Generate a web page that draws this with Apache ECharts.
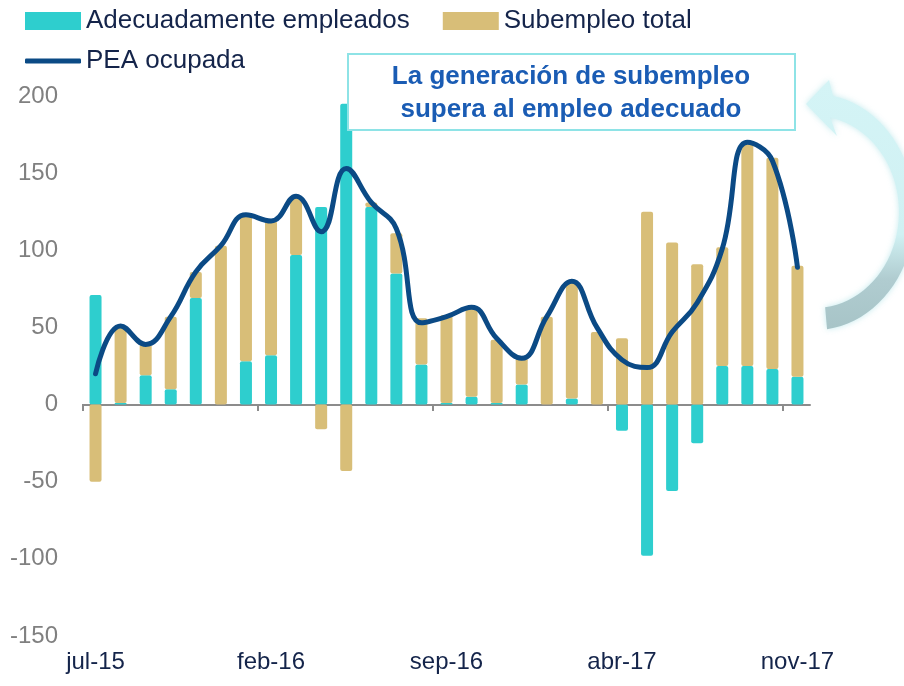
<!DOCTYPE html>
<html lang="es">
<head>
    <meta charset="UTF-8">
    <script src="https://cdn.jsdelivr.net/npm/echarts@6/dist/echarts.min.js"></script>
    <title>PEA ocupada</title>
    <style>
        html, body { margin: 0; padding: 0; background: #fff; }
    </style>
</head>
<body>
    <div id="main" style="width:904px;height:686px"></div>
    <script>
        // meses jul-15 .. nov-17
        var months = ['jul-15','ago-15','sep-15','oct-15','nov-15','dic-15',
            'ene-16','feb-16','mar-16','abr-16','may-16','jun-16','jul-16','ago-16','sep-16','oct-16','nov-16','dic-16',
            'ene-17','feb-17','mar-17','abr-17','may-17','jun-17','jul-17','ago-17','sep-17','oct-17','nov-17'];
        var adecuado = [71, 1, 19, 10, 69, 0, 28, 32, 97, 128, 195, 128, 85, 26, 1, 5, 1, 13, 0, 4, 0, -17, -98, -56, -25, 25, 25, 23, 18];
        var subempleo = [-50, 50, 20, 47, 17, 103, 95, 87, 37, -16, -43, 3, 26, 30, 57, 58, 41, 17, 57, 76, 47, 43, 125, 105, 91, 77, 144, 137, 72];
        var pea = [20, 51, 39, 57, 86, 103, 123, 119, 135, 112, 153, 131, 114, 53, 57, 63, 43, 30, 57, 80, 50, 29, 24, 47, 66, 101, 170, 158, 89];
        var yMin = -150, yMax = 200, yStep = 50;
        var tickEvery = 7;   // una marca cada 7 meses

        var font = 'Liberation Sans, Arial, sans-serif';
        var navy = '#14244a';

        // flecha circular decorativa a la derecha
        function arrowPoints() {
            var cx = 815, cy = 212;
            var ro = [100, 118], ri = [84, 96];
            var t0 = -1.39, t1 = 1.45, n = 40;
            var pts = [];
            pts.push([cx + ri[0] * Math.cos(t0), cy + ri[1] * Math.sin(t0)]);
            pts.push([837, 136]);
            pts.push([806, 104]);
            pts.push([829, 80]);
            for (var i = 0; i <= n; i++) {
                var t = t0 + (t1 - t0) * i / n;
                pts.push([cx + ro[0] * Math.cos(t), cy + ro[1] * Math.sin(t)]);
            }
            for (var j = n; j >= 0; j--) {
                var s = t0 + (t1 - t0) * j / n;
                pts.push([cx + ri[0] * Math.cos(s), cy + ri[1] * Math.sin(s)]);
            }
            return pts;
        }

        var echart = echarts.init(document.getElementById('main'));
        var option = {
            animation: false,
            textStyle: { fontFamily: font },
            grid: [
                { left: 83, right: 94, top: 96, bottom: 50 },
                // solo para las marcas del eje x (sin marca al final)
                { left: 83, right: 121, top: 96, bottom: 282 }
            ],
            legend: [
                {
                    left: 20, top: 3,
                    itemWidth: 56, itemHeight: 18, itemGap: 33,
                    icon: 'rect',
                    textStyle: { fontSize: 26, color: navy, fontFamily: font },
                    data: ['Adecuadamente empleados', 'Subempleo total']
                },
                {
                    left: 20, top: 43,
                    itemWidth: 56, itemHeight: 5,
                    textStyle: { fontSize: 26, color: navy, fontFamily: font },
                    data: [{ name: 'PEA ocupada', icon: 'roundRect' }]
                }
            ],
            xAxis: [
                {
                    type: 'category',
                    data: months,
                    axisLine: { onZero: true, lineStyle: { color: '#8c8c8c', width: 2 } },
                    axisTick: { show: false },
                    axisLabel: { show: false },
                    splitLine: { show: false }
                },
                {
                    type: 'category',
                    data: months,
                    position: 'bottom',
                    axisLine: { show: false, onZero: false },
                    axisTick: { show: false },
                    axisLabel: { interval: tickEvery - 1, fontSize: 24, color: navy, margin: 14, fontFamily: font },
                    splitLine: { show: false }
                },
                {
                    type: 'value',
                    gridIndex: 1,
                    min: 0, max: months.length - 1, interval: tickEvery,
                    position: 'bottom',
                    axisLine: { show: false, onZero: false },
                    axisTick: { show: true, length: 7, lineStyle: { color: '#8c8c8c', width: 2 } },
                    axisLabel: { show: false },
                    splitLine: { show: false }
                }
            ],
            yAxis: [
                {
                    type: 'value',
                    min: yMin, max: yMax, interval: yStep,
                    axisLine: { show: false },
                    axisTick: { show: false },
                    splitLine: { show: false },
                    axisLabel: { fontSize: 24, color: '#808080', margin: 25, fontFamily: font }
                },
                { type: 'value', gridIndex: 1, show: false }
            ],
            series: [
                {
                    name: 'Adecuadamente empleados',
                    type: 'bar',
                    stack: 'total',
                    barWidth: 12,
                    data: adecuado,
                    itemStyle: { color: '#2ecece', borderRadius: 2 }
                },
                {
                    name: 'Subempleo total',
                    type: 'bar',
                    stack: 'total',
                    barWidth: 12,
                    data: subempleo,
                    itemStyle: { color: '#d8be78', borderRadius: 2 }
                },
                {
                    name: 'PEA ocupada',
                    type: 'line',
                    data: pea,
                    smooth: 0.45,
                    symbol: 'none',
                    z: 5,
                    lineStyle: { color: '#0b4a85', width: 5, cap: 'round' },
                    itemStyle: { color: '#0b4a85' }
                }
            ],
            graphic: [
                {
                    type: 'polygon',
                    z: 1,
                    shape: { points: arrowPoints() },
                    style: {
                        fill: new echarts.graphic.LinearGradient(0, 0, 0, 1, [
                            { offset: 0, color: '#d4f4f6' },
                            { offset: 0.62, color: '#d0f1f3' },
                            { offset: 0.8, color: '#b0ccd0' },
                            { offset: 1, color: '#a7c4c7' }
                        ]),
                        shadowBlur: 6,
                        shadowColor: 'rgba(170,225,230,0.7)'
                    }
                },
                {
                    type: 'rect',
                    z: 100,
                    shape: { x: 348, y: 54, width: 447, height: 76 },
                    style: { fill: '#ffffff', stroke: '#8ee3e6', lineWidth: 2 }
                },
                {
                    type: 'text',
                    z: 101,
                    x: 571, y: 93,
                    style: {
                        text: 'La generación de subempleo\nsupera al empleo adecuado',
                        fill: '#1a5cb4',
                        font: 'bold 26px ' + font,
                        align: 'center',
                        verticalAlign: 'middle',
                        lineHeight: 33
                    }
                }
            ]
        };
        echart.setOption(option);
    </script>
</body>
</html>
